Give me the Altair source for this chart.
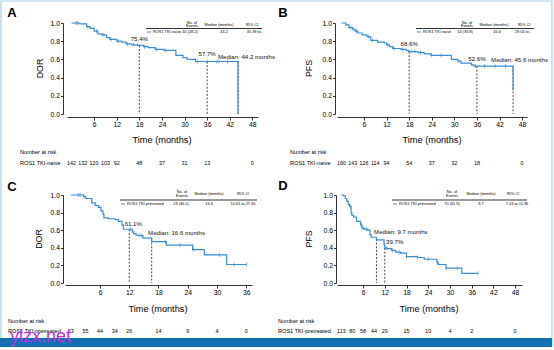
import altair as alt
import pandas as pd

W, H = 554, 350
BLUE = "#3a8ed3"
BAND = "#b5d9f2"
DASH = "#333333"
SANS = "Liberation Sans, Arial, sans-serif"

# ------------------------------------------------------------------ data
Y_TICKS = [0.0, 0.2, 0.4, 0.6, 0.8, 1.0]
X_TICKS_48 = [6, 12, 18, 24, 30, 36, 42, 48]
X_TICKS_36 = [6, 12, 18, 24, 30, 36]

# Panel A: DOR, ROS1 TKI-naive
A_t = [0, 2.2, 4.0, 4.9, 6.0, 7.0, 8.0, 9.3, 10.2, 12.0, 13.3, 14.5, 16.0, 17.6,
       19.1, 20.4, 22.2, 24.5, 27.7, 29.6, 30.7, 32.9, 44.2]
A_s = [1.0, 0.99, 0.96, 0.94, 0.91, 0.88, 0.87, 0.84, 0.82, 0.80, 0.79, 0.77, 0.76, 0.754,
       0.74, 0.73, 0.71, 0.70, 0.645, 0.62, 0.60, 0.577, 0.0]
A_cens_t = [1.2, 1.6, 4.3, 6.6, 8.4, 10.5, 12.4, 14.8, 16.5, 19.4, 22.6, 25.0, 33.4, 36.0, 38.6, 39.1, 41.4]
A_cens_s = [1.0, 1.0, 0.96, 0.91, 0.87, 0.82, 0.80, 0.77, 0.76, 0.74, 0.71, 0.70, 0.577, 0.577, 0.577, 0.577, 0.577]
A_ann_t = [18, 36, 44.2]
A_ann_s = [0.754, 0.577, 0.577]
A_ann_lab = ["75.4%", "57.7%", "Median: 44.2 months"]
A_risk_t = [0, 3, 6, 9, 12, 18, 24, 30, 36, 48]
A_risk_n = [142, 132, 120, 103, 92, 48, 37, 31, 13, 0]
A_leg = ["ROS1 TKI-naive", "40 (28.2)", "44.2", "30.39 to -"]

# Panel B: PFS, ROS1 TKI-naive
B_t = [0, 1.2, 2.0, 3.0, 3.6, 4.4, 5.5, 6.8, 7.8, 9.6, 11.4, 12.0, 12.8, 13.6, 15.8, 17.2,
       17.8, 20.3, 22.0, 23.8, 29.2, 30.9, 31.8, 34.5, 35.2, 45.6]
B_s = [1.0, 0.98, 0.95, 0.93, 0.91, 0.89, 0.87, 0.85, 0.81, 0.79, 0.78, 0.76, 0.74, 0.72, 0.71, 0.70,
       0.686, 0.675, 0.66, 0.645, 0.60, 0.58, 0.56, 0.54, 0.526, 0.26]
B_cens_t = [2.5, 4.0, 7.3, 8.2, 12.3, 14.0, 16.3, 18.5, 19.5, 21.0, 24.0, 26.5, 31.2, 35.6, 38.0, 40.8, 43.6]
B_cens_s = [0.95, 0.91, 0.85, 0.81, 0.76, 0.72, 0.71, 0.686, 0.686, 0.675, 0.645, 0.645, 0.58, 0.526, 0.526, 0.526, 0.526]
B_ann_t = [18, 36, 45.6]
B_ann_s = [0.686, 0.526, 0.526]
B_ann_lab = ["68.6%", "52.6%", "Median: 45.6 months"]
B_risk_t = [0, 3, 6, 9, 12, 18, 24, 30, 36, 48]
B_risk_n = [160, 143, 126, 114, 94, 54, 37, 32, 18, 0]
B_leg = ["ROS1 TKI-naive", "54 (33.8)", "45.6", "29.04 to -"]

# Panel C: DOR, ROS1 TKI-pretreated
C_t = [0, 2.6, 3.1, 4.3, 5.0, 5.7, 6.2, 6.6, 6.8, 7.7, 9.1, 9.8, 10.5, 10.8, 12.6, 12.9,
       13.4, 14.8, 16.6, 19.6, 25.0, 27.4, 32.0, 36.1]
C_s = [1.0, 0.98, 0.96, 0.91, 0.88, 0.86, 0.82, 0.78, 0.74, 0.73, 0.72, 0.70, 0.66, 0.611, 0.58, 0.56,
       0.54, 0.51, 0.47, 0.43, 0.38, 0.32, 0.21, 0.21]
C_cens_t = [1.5, 1.9, 2.9, 12.2, 14.0, 14.5, 19.4, 22.4, 25.2, 30.5, 33.5, 36.1]
C_cens_s = [1.0, 1.0, 0.98, 0.611, 0.54, 0.54, 0.47, 0.43, 0.38, 0.32, 0.21, 0.21]
C_ann_t = [12, 16.6]
C_ann_s = [0.611, 0.5]
C_ann_lab = ["61.1%", "Median: 16.6 months"]
C_risk_t = [0, 3, 6, 9, 12, 18, 24, 30, 36]
C_risk_n = [63, 55, 44, 34, 26, 14, 9, 4, 0]
C_leg = ["ROS1 TKI-pretreated", "29 (46.0)", "16.6", "10.61 to 27.30"]

# Panel D: PFS, ROS1 TKI-pretreated
D_t = [0, 0.6, 1.1, 1.5, 1.9, 2.3, 2.7, 2.9, 3.4, 4.2, 5.3, 5.7, 6.4, 7.3, 7.9, 8.2, 9.7, 11.8,
       12.0, 12.7, 13.9, 15.0, 16.4, 18.0, 21.0, 22.9, 26.4, 26.8, 28.9, 33.3, 37.7]
D_s = [1.0, 0.99, 0.96, 0.93, 0.89, 0.87, 0.80, 0.77, 0.75, 0.70, 0.66, 0.62, 0.61, 0.60, 0.55, 0.52,
       0.49, 0.44, 0.397, 0.39, 0.37, 0.35, 0.34, 0.30, 0.29, 0.27, 0.23, 0.21, 0.17, 0.11, 0.11]
D_cens_t = [2.5, 5.5, 6.0, 7.0, 12.4, 14.2, 16.0, 18.0, 21.0, 24.0, 26.6, 29.0, 32.0, 37.7]
D_cens_s = [0.87, 0.66, 0.62, 0.61, 0.397, 0.37, 0.35, 0.30, 0.29, 0.27, 0.23, 0.17, 0.17, 0.11]
D_ann_t = [9.7, 12]
D_ann_s = [0.5, 0.397]
D_ann_lab = ["Median: 9.7 months", "39.7%"]
D_risk_t = [0, 3, 6, 9, 12, 18, 24, 30, 36, 48]
D_risk_n = [113, 80, 58, 44, 29, 15, 10, 4, 2, 0]
D_leg = ["ROS1 TKI-pretreated", "70 (61.9)", "9.7", "7.43 to 11.96"]

LEG_HEAD = ["No. of", "Events", "Median (months)", "95% CI"]
RISK_HEAD = "Number at risk"
X_TITLE = "Time (months)"

# ------------------------------------------------------------------ layout (pixels)
PANELS = [
    dict(letter="A", ytitle="DOR", t=A_t, s=A_s, ct=A_cens_t, cs=A_cens_s,
         at=A_ann_t, as_=A_ann_s, al=A_ann_lab,
         ann_off=[(0, -6.5, "center"), (0, -7, "center"), (-20, -4.5, "left")],
         rt=A_risk_t, rn=A_risk_n, leg=A_leg, xticks=X_TICKS_48,
         xdom=[-1.2, 49.5], xrng=[67, 258], yrng=[114, 23], xaxis_y=117, yaxis_x=63,
         letter_xy=(12, 13), ytitle_xy=(40, 68.5), xtitle_xy=(162, 140),
         risk_x=20, risk_y=(152, 163),
         lg=dict(x1=146, x2=262, line_y=28.5, head_y=(22.5, 26, 24.5), row_y=32,
                 no=192, med=219, ci=252, dash=(147, 151), name=153, c_no=190, c_med=224, c_ci=255)),
    dict(letter="B", ytitle="PFS", t=B_t, s=B_s, ct=B_cens_t, cs=B_cens_s,
         at=B_ann_t, as_=B_ann_s, al=B_ann_lab,
         ann_off=[(0, -7.5, "center"), (0, -7, "center"), (-22, -6, "left")],
         rt=B_risk_t, rn=B_risk_n, leg=B_leg, xticks=X_TICKS_48,
         xdom=[-1.17, 49.3], xrng=[337, 527], yrng=[114, 23], xaxis_y=117, yaxis_x=335,
         letter_xy=(283, 13), ytitle_xy=(309, 68.5), xtitle_xy=(432, 140),
         risk_x=290, risk_y=(152, 163),
         lg=dict(x1=416, x2=534, line_y=28.5, head_y=(22.5, 26, 24.5), row_y=32,
                 no=467, med=494, ci=524, dash=(417, 421), name=423, c_no=465, c_med=497, c_ci=523)),
    dict(letter="C", ytitle="DOR", t=C_t, s=C_s, ct=C_cens_t, cs=C_cens_s,
         at=C_ann_t, as_=C_ann_s, al=C_ann_lab,
         ann_off=[(4, -5, "center"), (-3.6, -5.7, "left")],
         rt=C_risk_t, rn=C_risk_n, leg=C_leg, xticks=X_TICKS_36,
         xdom=[-1.2, 37.2], xrng=[65, 252], yrng=[283, 195], xaxis_y=285, yaxis_x=63,
         letter_xy=(12, 187), ytitle_xy=(39, 239), xtitle_xy=(158, 309),
         risk_x=8, risk_y=(321, 331),
         lg=dict(x1=120, x2=257, line_y=200, head_y=(191.5, 195.5, 193.5), row_y=204,
                 no=182, med=209, ci=243, dash=(121, 125), name=127, c_no=181, c_med=209, c_ci=243)),
    dict(letter="D", ytitle="PFS", t=D_t, s=D_s, ct=D_cens_t, cs=D_cens_s,
         at=D_ann_t, as_=D_ann_s, al=D_ann_lab,
         ann_off=[(-2.4, -7, "left"), (1.3, -6, "left")],
         rt=D_risk_t, rn=D_risk_n, leg=D_leg, xticks=X_TICKS_48,
         xdom=[-1.2, 49.9], xrng=[337, 522], yrng=[283, 195], xaxis_y=285, yaxis_x=336,
         letter_xy=(283, 186), ytitle_xy=(309, 239), xtitle_xy=(429, 309),
         risk_x=278, risk_y=(321, 331),
         lg=dict(x1=392, x2=527, line_y=200, head_y=(191.5, 195.5, 193.5), row_y=204,
                 no=452, med=481, ci=513, dash=(393, 397), name=399, c_no=452, c_med=481, c_ci=517)),
]

ONE = pd.DataFrame({"k": [0]})


def label(text, x, y, size=6.0, font=SANS, align="center", baseline="middle",
          angle=0, weight="normal", color="#000000"):
    mk = dict(text=text, fontSize=size, font=font, align=align, baseline=baseline,
              color=color, fontWeight=weight)
    if angle:
        mk["angle"] = angle
    return alt.Chart(ONE).mark_text(**mk).encode(x=alt.value(x), y=alt.value(y))


def hline(x1, x2, y, color="#000000", width=0.8):
    return alt.Chart(ONE).mark_rule(color=color, strokeWidth=width).encode(
        x=alt.value(x1), x2=alt.value(x2), y=alt.value(y))


layers = []

# frame and bottom bar
layers.append(alt.Chart(ONE).mark_rect(fillOpacity=0, stroke="#a6cfec", strokeWidth=1.2).encode(
    x=alt.value(1), x2=alt.value(552), y=alt.value(1), y2=alt.value(346)))
layers.append(alt.Chart(ONE).mark_rect(color="#1170b0").encode(
    x=alt.value(0), x2=alt.value(552), y=alt.value(338), y2=alt.value(347)))

for p in PANELS:
    xs = alt.Scale(domain=p["xdom"], range=p["xrng"], nice=False, zero=False)
    ys = alt.Scale(domain=[0, 1], range=p["yrng"], nice=False, zero=False)

    def X(field="t"):
        return alt.X(f"{field}:Q", scale=xs, axis=None)

    def Y(field="s"):
        return alt.Y(f"{field}:Q", scale=ys, axis=None)

    # axes
    axl = alt.Chart(pd.DataFrame({"t": [0.0], "s": [0.0]})).mark_point(opacity=0).encode(
        x=alt.X("t:Q", scale=xs, axis=alt.Axis(
            orient="bottom", offset=p["xaxis_y"] - H, values=p["xticks"], format="d",
            title=None, grid=False, tickSize=3, tickWidth=0.8, domainWidth=0.8,
            domainColor="#000000", tickColor="#000000", labelColor="#000000",
            labelFont=SANS, labelFontSize=6.8, labelPadding=1.5,
            labelFlush=False, labelOverlap=False)),
        y=alt.Y("s:Q", scale=ys, axis=alt.Axis(
            orient="left", offset=-p["yaxis_x"], values=Y_TICKS, format=".1f",
            title=None, grid=False, tickSize=2.5, tickWidth=0.8, domainWidth=0.8,
            domainColor="#000000", tickColor="#000000", labelColor="#000000",
            labelFont=SANS, labelFontSize=6.8, labelPadding=1,
            labelFlush=False, labelOverlap=False)),
    )
    layers.append(axl)

    # dashed guide lines
    gdf = pd.DataFrame({"t": p["at"], "s": p["as_"]})
    layers.append(alt.Chart(gdf).mark_rule(color=DASH, strokeDash=[2, 1.6], strokeWidth=0.9).encode(
        x=X(), y=Y(), y2=alt.datum(0)))

    # survival curve with a thin light confidence shading under it
    cdf = pd.DataFrame({"t": p["t"], "s": p["s"]})
    layers.append(alt.Chart(cdf).transform_calculate(lo="max(datum.s - 0.03, 0)").mark_area(
        interpolate="step-after", color=BAND, opacity=0.8).encode(
        x=X(), y=Y(), y2="lo:Q", order="t:Q"))
    layers.append(alt.Chart(cdf).mark_line(interpolate="step-after", color=BLUE, strokeWidth=1.2).encode(
        x=X(), y=Y(), order="t:Q"))

    # censor marks
    kdf = pd.DataFrame({"t": p["ct"], "s": p["cs"]})
    layers.append(alt.Chart(kdf).mark_tick(orient="vertical", size=4, thickness=1, color=BLUE).encode(
        x=X(), y=Y()))

    # annotations
    for i, (dx, dy, al) in enumerate(p["ann_off"]):
        adf = pd.DataFrame({"t": [p["at"][i]], "s": [p["as_"][i]], "lab": [p["al"][i]]})
        layers.append(alt.Chart(adf).mark_text(
            font=SANS, fontSize=6.1, align=al, baseline="middle", dx=dx, dy=dy, color="#111111").encode(
            x=X(), y=Y(), text="lab:N"))

    # number at risk row
    rdf = pd.DataFrame({"t": p["rt"], "n": p["rn"]})
    layers.append(alt.Chart(rdf).mark_text(font=SANS, fontSize=5.4, align="center", baseline="middle",
                                           color="#000000").encode(
        x=X(), y=alt.value(p["risk_y"][1]), text="n:Q"))
    layers.append(label(RISK_HEAD, p["risk_x"], p["risk_y"][0], size=5.6, align="left"))
    layers.append(label(p["leg"][0], p["risk_x"], p["risk_y"][1], size=5.6, align="left"))

    # titles
    layers.append(label(p["letter"], *p["letter_xy"], size=13, weight="bold"))
    layers.append(label(p["ytitle"], *p["ytitle_xy"], size=8.8, angle=270))
    layers.append(label(X_TITLE, *p["xtitle_xy"], size=9.2))

    # legend table
    lg = p["lg"]
    fs = 3.9
    layers.append(label(LEG_HEAD[0], lg["no"], lg["head_y"][0], size=fs))
    layers.append(label(LEG_HEAD[1], lg["no"], lg["head_y"][1], size=fs))
    layers.append(label(LEG_HEAD[2], lg["med"], lg["head_y"][2], size=fs))
    layers.append(label(LEG_HEAD[3], lg["ci"], lg["head_y"][2], size=fs))
    layers.append(hline(lg["x1"], lg["x2"], lg["line_y"]))
    layers.append(hline(lg["dash"][0], lg["dash"][1], lg["row_y"], color=BLUE, width=1))
    layers.append(label(p["leg"][0], lg["name"], lg["row_y"], size=fs, align="left"))
    layers.append(label(p["leg"][1], lg["c_no"], lg["row_y"], size=fs))
    layers.append(label(p["leg"][2], lg["c_med"], lg["row_y"], size=fs))
    layers.append(label(p["leg"][3], lg["c_ci"], lg["row_y"], size=fs))

# watermark
layers.append(label("ylzx.net", 10, 342, size=18, align="left", baseline="alphabetic", color="#bd2fe3"))

chart = alt.layer(*layers).resolve_scale(x="independent", y="independent").properties(
    width=W, height=H, padding=0, autosize=alt.AutoSizeParams(type="none"), background="white"
).configure_view(stroke=None)

chart.save("out.html", embed_options={"renderer": "svg", "actions": False})
